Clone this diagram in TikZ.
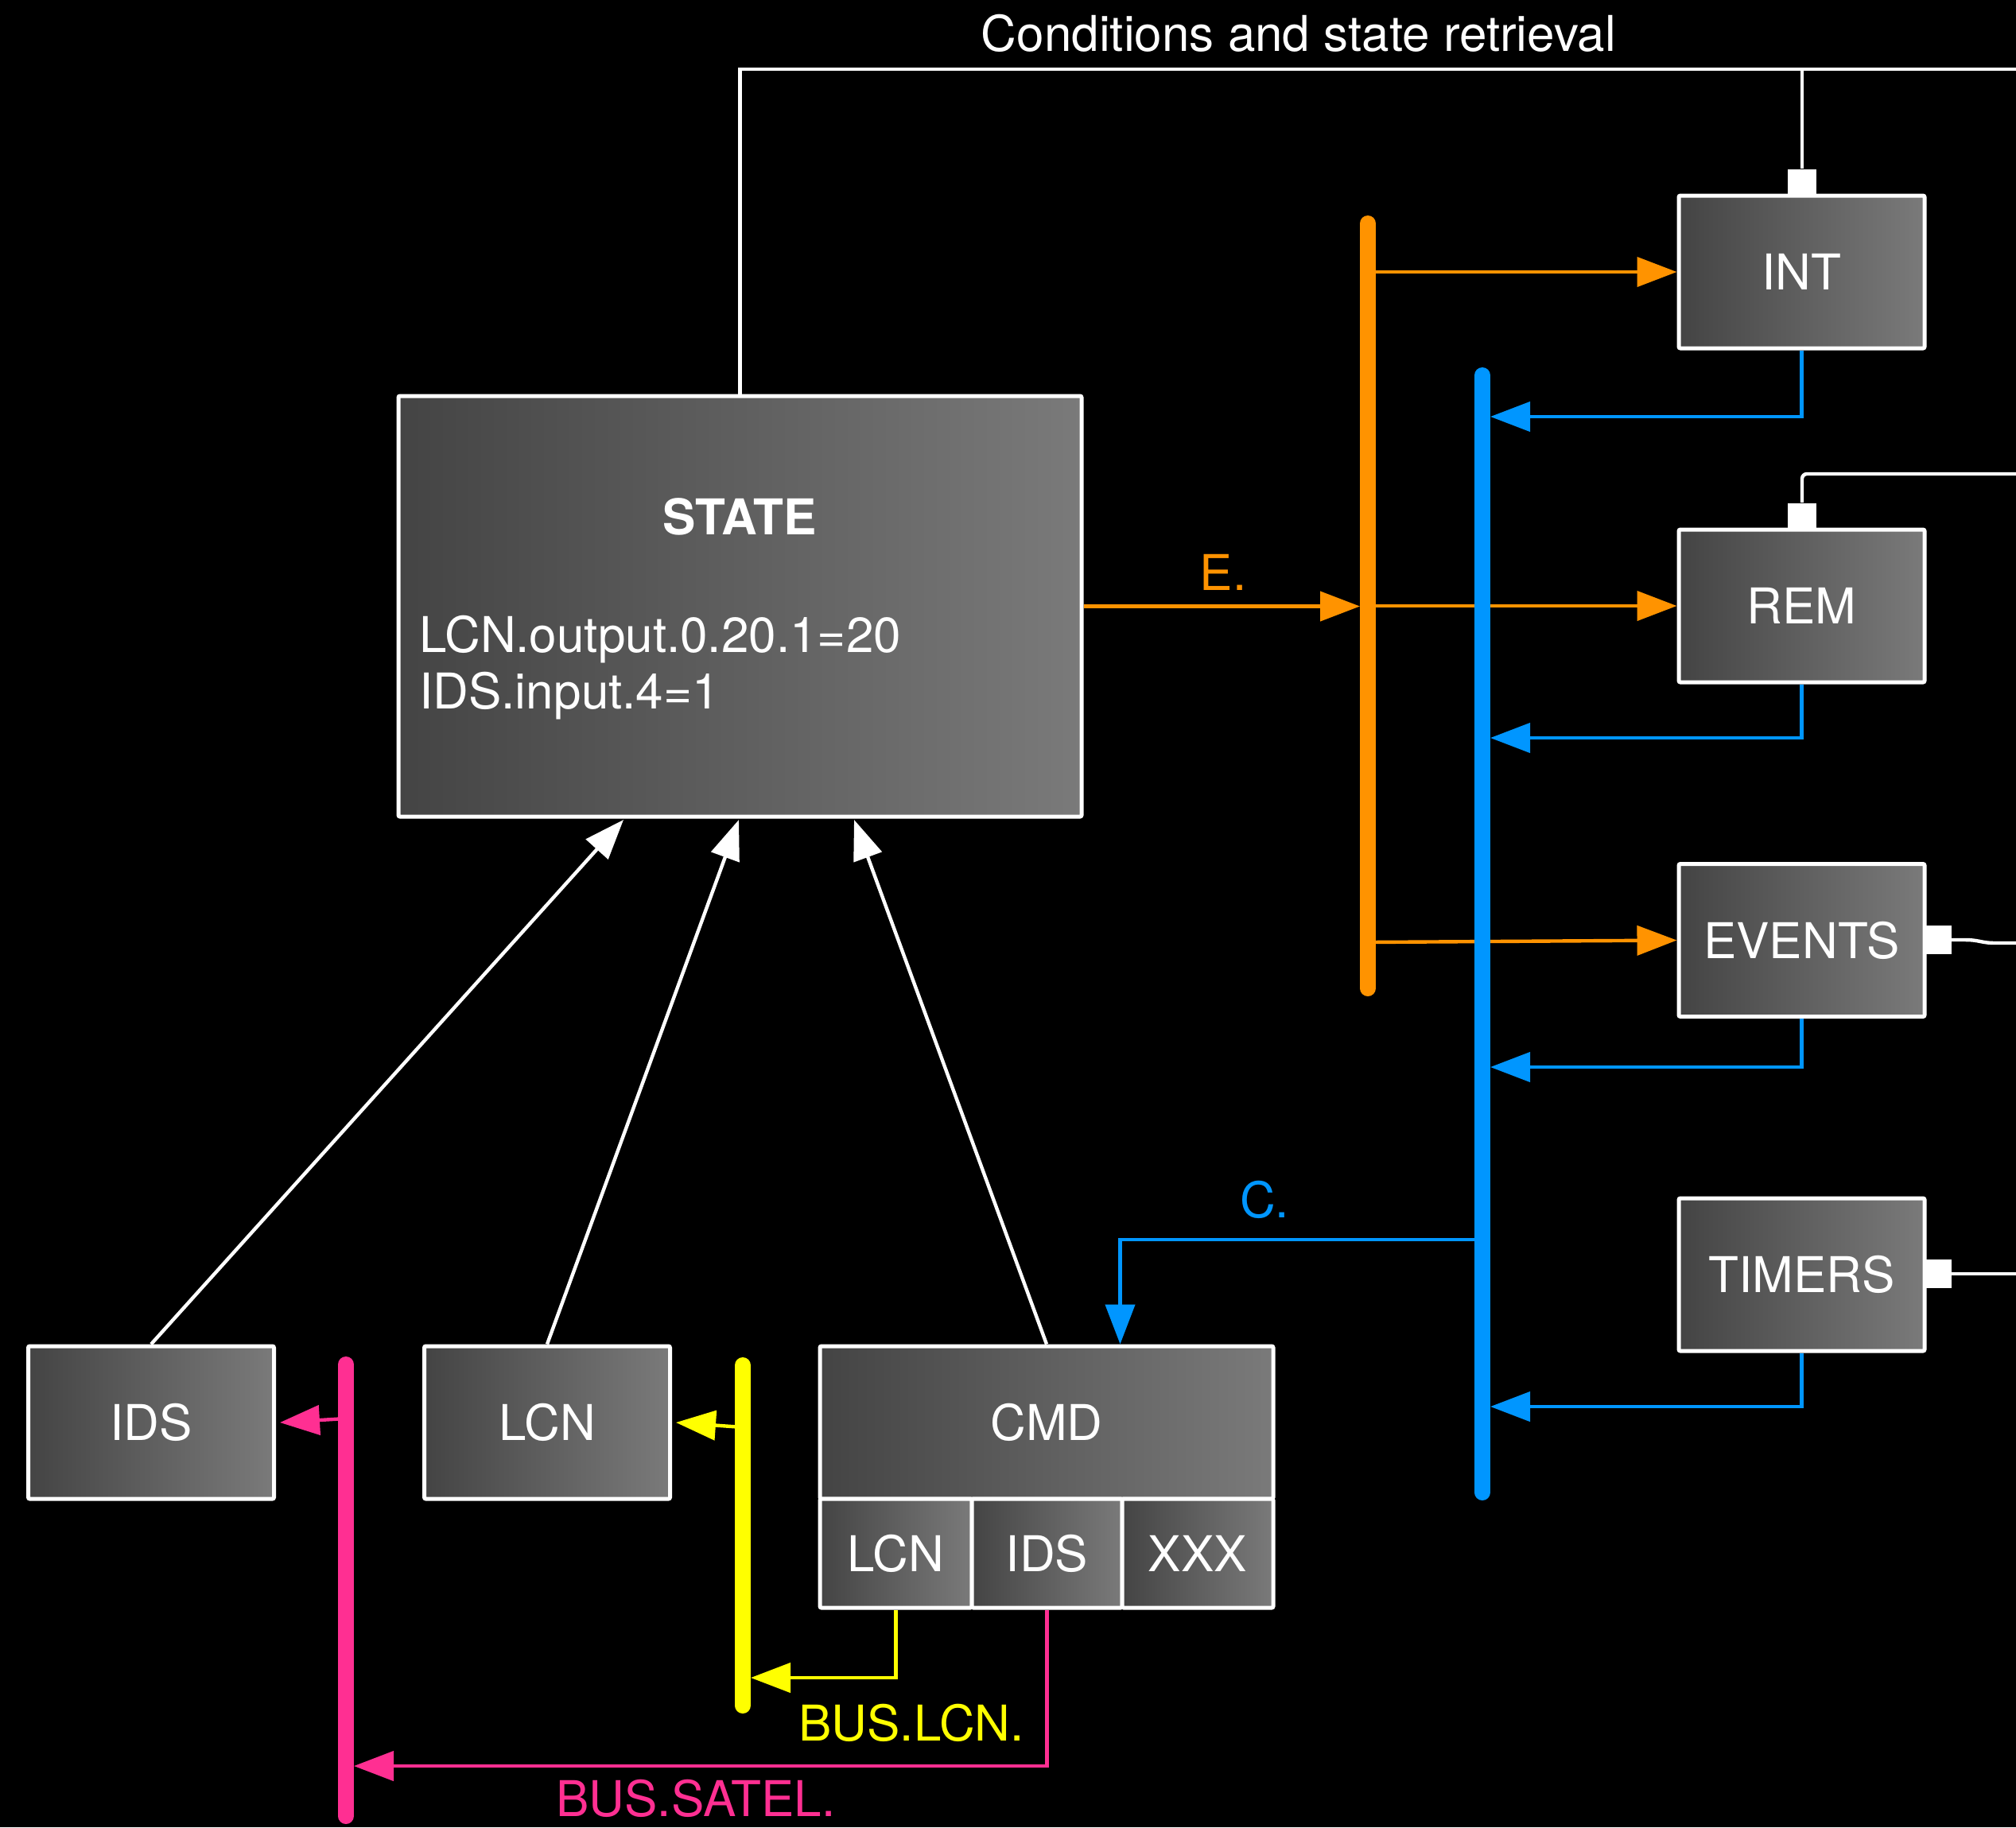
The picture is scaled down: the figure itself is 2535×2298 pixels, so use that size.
\documentclass[tikz,border=0pt]{standalone}
\usepackage{fontspec}
\setmainfont{TeX Gyre Heros}
\usetikzlibrary{arrows.meta,calc}
\definecolor{cOrange}{HTML}{FF9300}
\definecolor{cBlue}{HTML}{0096FF}
\definecolor{cYellow}{HTML}{FFFF00}
\definecolor{cPink}{HTML}{FF2F92}
\definecolor{boxL}{HTML}{444444}
\definecolor{boxR}{HTML}{7A7A7A}
\begin{document}
\begin{tikzpicture}[x=0.5pt,y=-0.5pt,
  font=\fontsize{31}{36}\selectfont,
  box/.style={draw=white, line width=2.5pt, left color=boxL, right color=boxR,
    text=white, inner sep=0pt, rounded corners=1pt},
  sbox/.style={box, minimum width=154.5pt, minimum height=96pt},
  subbox/.style={box, minimum height=68.5pt},
  porttop/.style={fill=white, inner sep=0pt, minimum width=18pt, minimum height=16.5pt},
  portside/.style={fill=white, inner sep=0pt, minimum width=16.5pt, minimum height=18pt},
  wline/.style={draw=white, line width=2.2pt},
  tip/.style={-{Triangle[length=25pt,width=18.5pt]}},
  warrow/.style={wline, tip},
  oarrow/.style={draw=cOrange, line width=2.2pt, tip},
  barrow/.style={draw=cBlue, line width=2.2pt, tip},
  yarrow/.style={draw=cYellow, line width=2.2pt, tip},
  parrow/.style={draw=cPink, line width=2.2pt, tip},
  busline/.style={line width=10pt, line cap=round},
  lbl/.style={inner sep=0pt}
]
\useasboundingbox (0,0) rectangle (2535,2298);
\fill[black] (0,0) rectangle (2535,2298);

% bus reference coordinates
\coordinate (oTop) at (1720,281);  \coordinate (oBot) at (1720,1243);
\coordinate (oL) at (1710,0);
\coordinate (bTop) at (1864,472);  \coordinate (bBot) at (1864,1877);
\coordinate (bC) at (1864,0);      \coordinate (bR) at (1874,0);
\coordinate (yTop) at (934,1717);  \coordinate (yBot) at (934,2145);
\coordinate (yC) at (934,0);       \coordinate (yR) at (944,0);
\coordinate (pTop) at (435,1716);  \coordinate (pBot) at (435,2284);
\coordinate (pC) at (435,0);       \coordinate (pR) at (445,0);

% boxes
\node[box, minimum width=429.5pt, minimum height=264.5pt] (state) at (930.5,762.5) {};
\node[lbl, text=white, font=\fontsize{31}{36}\selectfont\bfseries] (stateT) at (930,650) {STATE};
\node[lbl, text=white, anchor=base west] (stateA) at (527,820) {LCN.output.0.20.1=20};
\node[lbl, text=white, anchor=base west] (stateB) at (527,891) {IDS.input.4=1};

\node[sbox] (int) at (2265.5,342) {INT};
\node[sbox] (rem) at (2265.5,762) {REM};
\node[sbox] (events) at (2265.5,1182.5) {EVENTS};
\node[sbox] (timers) at (2265.5,1603) {TIMERS};
\node[sbox] (ids) at (190,1789) {IDS};
\node[sbox] (lcn) at (688,1789) {LCN};
\node[box, minimum width=285pt, minimum height=96pt] (cmd) at (1316,1789) {CMD};
\node[subbox, minimum width=95.5pt] (cl) at (1126.5,1953.5) {LCN};
\node[subbox, minimum width=94.5pt] (ci) at (1316.5,1953.5) {IDS};
\node[subbox, minimum width=95pt] (cx) at (1506,1953.5) {XXX};

% ports
\node[porttop] (intp) at (2266,229) {};
\node[porttop] (remp) at (2266,649) {};
\node[portside] (evp) at (2437,1182) {};
\node[portside] (tmp) at (2437,1602) {};

% outside free ends
\coordinate (topout) at (2540,87);
\coordinate (remout) at (2540,596);
\coordinate (evout) at (2540,1186);
\coordinate (tmout) at (2540,1602);

% white condition lines
\draw[wline] (state.north) |- (topout);
\draw[wline] (intp.north) -- (intp.north |- topout);
\draw[wline, rounded corners=3pt] (remp.north) |- (remout);
\draw[wline] (evp.east) -- (2470,1182) .. controls (2490,1182) and (2490,1186) .. (2510,1186) -- (evout);
\draw[wline] (tmp.east) -- (tmout);

% orange event lines
\draw[oarrow] (state.east) -- (oL |- state.east);
\draw[oarrow] (oTop |- int.west) -- (int.west);
\draw[oarrow] (oTop |- rem.west) -- (rem.west);
\draw[oarrow] (oTop |- 0,1185) -- (events.west);
\draw[busline, cOrange] (oTop) -- (oBot);

% blue lines
\draw[barrow] (int.south) |- (bR |- 0,524);
\draw[barrow] (rem.south) |- (bR |- 0,928);
\draw[barrow] (events.south) |- (bR |- 0,1342);
\draw[barrow] (timers.south) |- (bR |- 0,1769);
\draw[barrow] (bC |- 0,1559) -| (cmd.north -| cx.west);
\draw[busline, cBlue] (bTop) -- (bBot);

% white arrows into STATE
\coordinate (s1) at (784,1031);
\coordinate (s2) at (929,1031);
\coordinate (s3) at (1074,1031);
\draw[warrow] (ids.north) -- (s1);
\draw[warrow] (lcn.north) -- (s2);
\draw[warrow] (cmd.north) -- (s3);

% yellow bus
\draw[yarrow] (yC |- 0,1795) -- ([xshift=2.5pt]lcn.east);
\draw[yarrow] (cl.south) |- (yR |- 0,2110);
\draw[busline, cYellow] (yTop) -- (yBot);

% pink bus
\draw[parrow] (pC |- 0,1784) -- ([xshift=2.5pt]ids.east);
\draw[parrow] (ci.south) |- (pR |- 0,2221);
\draw[busline, cPink] (pTop) -- (pBot);

% labels
\node[lbl, text=white] (title) at (1633,42) {Conditions and state retrieval};
\node[lbl, text=cOrange] (elbl) at (1538,720) {E.};
\node[lbl, text=cBlue] (clbl) at (1590,1509) {C.};
\node[lbl, text=cYellow] (ylbl) at (1146,2167) {BUS.LCN.};
\node[lbl, text=cPink] (plbl) at (875,2262) {BUS.SATEL.};
\end{tikzpicture}
\end{document}
